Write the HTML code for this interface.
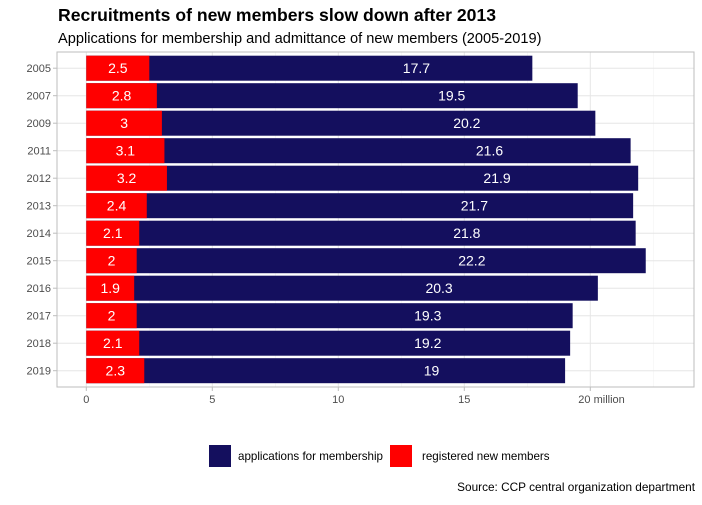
<!DOCTYPE html>
<html><head><meta charset="utf-8"><style>
body{margin:0;background:#fff;font-family:"Liberation Sans",Arial,sans-serif}
svg text{font-family:"Liberation Sans",Arial,sans-serif}
</style></head><body>
<svg id="chart" width="702" height="500" xmlns="http://www.w3.org/2000/svg">
<text x="58" y="21" font-size="17.6" font-weight="bold" fill="#000">Recruitments of new members slow down after 2013</text>
<text x="58" y="43" font-size="14.6" fill="#000">Applications for membership and admittance of new members (2005-2019)</text>
<g id="grid"></g><g id="bars"></g><g id="axes"></g>
<rect x="57" y="52" width="637" height="335" fill="none" stroke="#bdbdbd" stroke-width="1"/>
<g>
<rect x="209" y="445" width="22" height="22" fill="#140f5e"/>
<text x="238" y="460" font-size="11.6" fill="#000">applications for membership</text>
<rect x="390" y="445" width="22" height="22" fill="#ff0000"/>
<text x="422" y="460" font-size="11.6" fill="#000">registered new members</text>
</g>
<text x="695" y="491" font-size="11.8" fill="#000" text-anchor="end">Source: CCP central organization department</text>
</svg>
<script>
const years = ["2005","2007","2009","2011","2012","2013","2014","2015","2016","2017","2018","2019"];
const applications = [17.7,19.5,20.2,21.6,21.9,21.7,21.8,22.2,20.3,19.3,19.2,19];
const registered = [2.5,2.8,3,3.1,3.2,2.4,2.1,2,1.9,2,2.1,2.3];
const appLabelAt = [13.1,14.5,15.1,16.0,16.3,15.4,15.1,15.3,14.0,13.55,13.55,13.7];
const xTicks = [0,5,10,15,20];
const xTickLabels = ["0","5","10","15","20 million"];
const NS="http://www.w3.org/2000/svg";
const x = v => 86.3 + v*25.2;
const y = i => 55.7 + i*27.5;
const bh = 25;
function mk(tag, attrs, parent){const e=document.createElementNS(NS,tag);for(const k in attrs)e.setAttribute(k,attrs[k]);parent.appendChild(e);return e;}
const grid=document.getElementById('grid'), bars=document.getElementById('bars'), axes=document.getElementById('axes');
for(let v=0; v<=22.5; v+=2.5){
  const major = Math.abs(v%5)<1e-9;
  const l=mk('line',{x1:x(v),x2:x(v),y1:52,y2:387,stroke:major?'#e6e6e6':'#f2f2f2','stroke-width':major?1:0.6},grid);
  
  
}
years.forEach((yr,i)=>{
  const cy=y(i)+bh/2;
  const g=mk('line',{x1:57,x2:694,y1:cy,y2:cy,stroke:'#e6e6e6','stroke-width':1},grid);
  
  
  const a=mk('rect',{x:x(0),y:y(i),width:x(applications[i])-x(0),height:bh,fill:'#140f5e'},bars);
  
  
  const r=mk('rect',{x:x(0),y:y(i),width:x(registered[i])-x(0),height:bh,fill:'#ff0000'},bars);
  
  
  const t1=mk('text',{x:x(registered[i]/2),y:cy+5,'font-size':14,fill:'#fff','text-anchor':'middle'},bars);
  t1.textContent=registered[i];
  
  
  const t2=mk('text',{x:x(appLabelAt[i]),y:cy+5,'font-size':14,fill:'#fff','text-anchor':'middle'},bars);
  t2.textContent=applications[i];
  
  
  const yl=mk('text',{x:51,y:cy+4,'font-size':11,fill:'#4d4d4d','text-anchor':'end'},axes);
  yl.textContent=yr;
  
  
  const tk=mk('line',{x1:53,x2:57,y1:cy,y2:cy,stroke:'#bdbdbd'},axes);
  
  
});
xTicks.forEach((v,i)=>{
  const tk=mk('line',{x1:x(v),x2:x(v),y1:387,y2:391,stroke:'#bdbdbd'},axes);
  
  
  const lab=xTickLabels[i];
  const t=mk('text',{x:i===xTicks.length-1?x(v)-12:x(v),y:403,'font-size':11,fill:'#4d4d4d','text-anchor':i===xTicks.length-1?'start':'middle'},axes);
  t.textContent=lab;
  
  
});
</script>
</body></html>
